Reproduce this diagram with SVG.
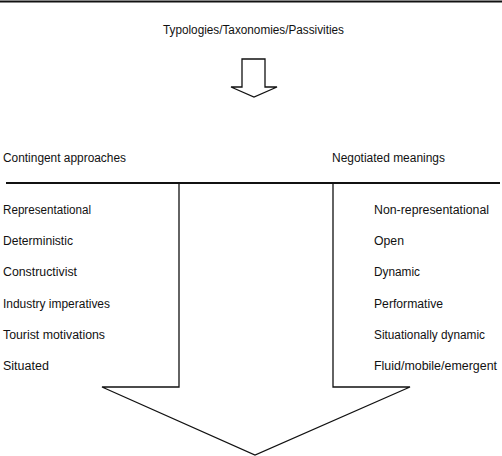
<svg xmlns="http://www.w3.org/2000/svg" width="502" height="456" viewBox="0 0 502 456">
<style>
text{font-family:"Liberation Sans","DejaVu Sans",sans-serif;font-size:12.5px;fill:#111}
.ln{stroke:#111;fill:none;stroke-width:1.3}
.thick{stroke:#111;stroke-width:2;fill:none}
</style>
<rect width="502" height="456" fill="#fff"/>
<line class="thick" x1="0" y1="1.5" x2="502" y2="1.5"/>
<g id="top">
<text x="253.5" y="34" text-anchor="middle" textLength="181" lengthAdjust="spacingAndGlyphs">Typologies/Taxonomies/Passivities</text>
</g>
<g id="connectors">
<polygon id="small-arrow" class="ln" points="242,59 265,59 265,87 277,87 254,97 231,87 242,87"/>
<line class="thick" x1="6" y1="183" x2="500" y2="183"/>
<polyline id="big-arrow" class="ln" points="179,183 179,387 102,387 255,455 410,387 333,387 333,183"/>
</g>
<g id="left">
<text x="3" y="162" textLength="123" lengthAdjust="spacingAndGlyphs">Contingent approaches</text>
<text x="3" y="214" textLength="88" lengthAdjust="spacingAndGlyphs">Representational</text>
<text x="3" y="245" textLength="70" lengthAdjust="spacingAndGlyphs">Deterministic</text>
<text x="3" y="276" textLength="74" lengthAdjust="spacingAndGlyphs">Constructivist</text>
<text x="3" y="308" textLength="107" lengthAdjust="spacingAndGlyphs">Industry imperatives</text>
<text x="3" y="339" textLength="102" lengthAdjust="spacingAndGlyphs">Tourist motivations</text>
<text x="3" y="370">Situated</text>
</g>
<g id="right">
<text x="332" y="162" textLength="113" lengthAdjust="spacingAndGlyphs">Negotiated meanings</text>
<text x="374" y="214" textLength="115" lengthAdjust="spacingAndGlyphs">Non-representational</text>
<text x="374" y="245" textLength="30" lengthAdjust="spacingAndGlyphs">Open</text>
<text x="374" y="276" textLength="46" lengthAdjust="spacingAndGlyphs">Dynamic</text>
<text x="374" y="308" textLength="69" lengthAdjust="spacingAndGlyphs">Performative</text>
<text x="374" y="339" textLength="111" lengthAdjust="spacingAndGlyphs">Situationally dynamic</text>
<text x="374" y="370" textLength="123" lengthAdjust="spacingAndGlyphs">Fluid/mobile/emergent</text>
</g>
</svg>
